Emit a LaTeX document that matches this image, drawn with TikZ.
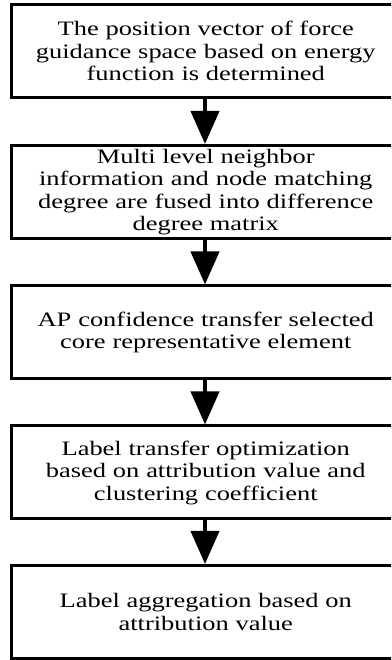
\documentclass[tikz,border=0pt]{standalone}
\usepackage{fontspec}
\setmainfont{Liberation Serif}[FakeStretch=1.29]
\usetikzlibrary{arrows.meta}
\begin{document}
\begin{tikzpicture}[x=1pt,y=1pt,
  stepbox/.style={draw=black, line width=3pt, rectangle, minimum width=388.5pt, minimum height=93pt,
    inner sep=0pt, text width=375pt, align=center, font=\fontsize{20.5}{22.5}\selectfont},
  flow/.style={line width=4pt, -{Triangle[width=28pt,length=33pt]}}]
\clip (0,0) rectangle (391,660);
\fill[white] (0,0) rectangle (391,660);
\node[stepbox] (b1) at (205.75,609) {The position vector of force\\guidance space based on energy\\function is determined};
\node[stepbox] (b2) at (205.75,468) {Multi level neighbor\\information and node matching\\degree are fused into difference\\degree matrix};
\node[stepbox] (b3) at (205.75,327.5) {AP confidence transfer selected\\core representative element};
\node[stepbox] (b4) at (205.75,187.5) {Label transfer optimization\\based on attribution value and\\clustering coefficient};
\node[stepbox] (b5) at (205.75,48) {Label aggregation based on\\attribution value};
\draw[flow] (b1.south -| 205,0) -- (b2.north -| 205,0);
\draw[flow] (b2.south -| 205,0) -- (b3.north -| 205,0);
\draw[flow] (b3.south -| 205,0) -- (b4.north -| 205,0);
\draw[flow] (b4.south -| 205,0) -- (b5.north -| 205,0);
\end{tikzpicture}
\end{document}
